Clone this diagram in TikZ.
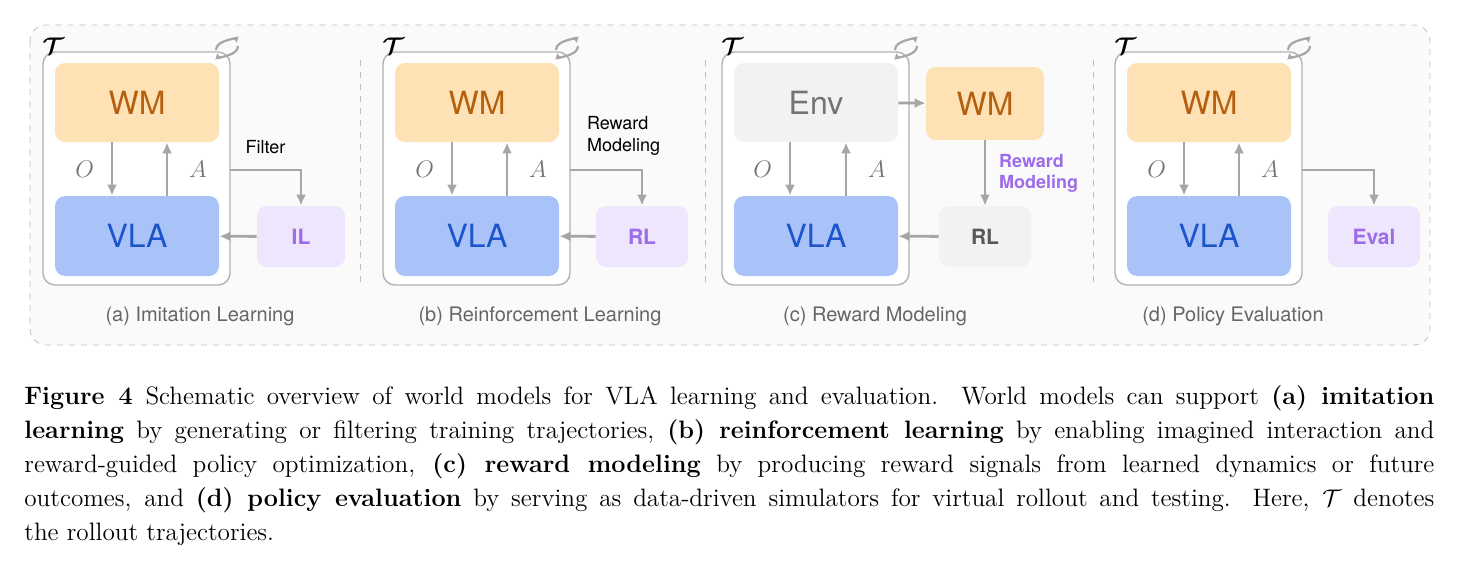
\documentclass[tikz,border=0pt]{standalone}
\usepackage{fontspec}
\setsansfont{TeX Gyre Heros}
\usepackage{amsmath,bm}
\usetikzlibrary{positioning,arrows.meta}
\definecolor{wmfill}{HTML}{FEE1B4}
\definecolor{wmtext}{HTML}{B5600F}
\definecolor{vlafill}{HTML}{A9C3F9}
\definecolor{vlatext}{HTML}{1B55C9}
\definecolor{ilfill}{HTML}{EDE6FD}
\definecolor{iltext}{HTML}{9C6CE9}
\definecolor{envfill}{HTML}{F2F2F2}
\definecolor{arr}{HTML}{A6A6A6}
\tikzset{
  box/.style={rounded corners=5pt, inner sep=0pt, font=\sffamily},
  frame/.style={draw=black!30, line width=0.7pt, rounded corners=6pt, fill=white},
  flow/.style={draw=arr, line width=1.4pt, -{Latex[length=5.5pt,width=5pt]}},
  sep/.style={draw=black!25, dashed, line width=0.5pt},
  sub/.style={font=\sffamily\fontsize{10}{12}\selectfont, text=black!60},
  act/.style={text=black!55, font=\fontsize{12}{14}\selectfont}
}
% repeated pieces of a panel
\newcommand{\trajframe}[1]{%
  \draw[frame] (#1+43,52) rectangle (#1+230,285);
  \node[anchor=west, inner sep=0pt] at (#1+42,46) {\large$\bm{\mathcal{T}}$};
  \draw[arr, line width=1.1pt, -{Latex[length=3pt,width=3.5pt]}] (#1+216,50) .. controls (#1+216,40) and (#1+236,39) .. (#1+237,43);
  \draw[arr, line width=1.1pt, -{Latex[length=3pt,width=3.5pt]}] (#1+238,46) .. controls (#1+238,56) and (#1+218,57) .. (#1+217,53);
}
\begin{document}
\begin{tikzpicture}[x=0.5pt, y=-0.5pt]
\useasboundingbox (0,0) rectangle (1460,570);
%cadre
\draw[draw=black!25, dashed, fill=black!2, rounded corners=8pt] (30,25) rectangle (1430,345);
\draw[sep] (360,60) -- (360,288);
\draw[sep] (705,60) -- (705,288);
\draw[sep] (1093,60) -- (1093,288);

%(a)
\trajframe{0}
\node[box, fill=wmfill, text=wmtext, minimum width=82pt, minimum height=39.5pt, font=\sffamily\fontsize{16}{18}\selectfont] (wma) at (137,102.5) {WM};
\node[box, fill=vlafill, text=vlatext, minimum width=82pt, minimum height=40pt, font=\sffamily\fontsize{16}{18}\selectfont] (vlaa) at (137,236) {VLA};
\node[box, fill=ilfill, text=iltext, minimum width=44pt, minimum height=30.5pt, font=\sffamily\bfseries\fontsize{10.5}{12}\selectfont] (il) at (301,236.5) {IL};
\draw[flow] (wma.south -| 112,0) -- (vlaa.north -| 112,0) node[midway, left=5pt, act] {$O$};
\draw[flow] (vlaa.north -| 167,0) -- (wma.south -| 167,0) node[midway, right=7pt, act] {$A$};
\coordinate (fa) at (230,170);
\draw[flow] (fa) -| (il.north) node[pos=0.25, above=4pt, font=\sffamily\small] {Filter};
\draw[flow] (il) -- (vlaa);
\node[sub] (capa) at (200,316) {(a) Imitation Learning};

%(b)
\trajframe{340}
\node[box, fill=wmfill, text=wmtext, minimum width=82pt, minimum height=39.5pt, font=\sffamily\fontsize{16}{18}\selectfont] (wmb) at (477,102.5) {WM};
\node[box, fill=vlafill, text=vlatext, minimum width=82pt, minimum height=40pt, font=\sffamily\fontsize{16}{18}\selectfont] (vlab) at (477,236) {VLA};
\node[box, fill=ilfill, text=iltext, minimum width=46pt, minimum height=30.5pt, font=\sffamily\bfseries\fontsize{10.5}{12}\selectfont] (rlb) at (642,236.5) {RL};
\draw[flow] (wmb.south -| 452,0) -- (vlab.north -| 452,0) node[midway, left=5pt, act] {$O$};
\draw[flow] (vlab.north -| 507,0) -- (wmb.south -| 507,0) node[midway, right=7pt, act] {$A$};
\coordinate (fb) at (570,170);
\draw[flow] (fb) -| (rlb.north);
\node[font=\sffamily\small, align=left, anchor=south west] (rmb) at (580,162) {Reward\\Modeling};
\draw[flow] (rlb) -- (vlab);
\node[sub] (capb) at (540,316) {(b) Reinforcement Learning};

%(c)
\trajframe{679}
\node[box, fill=envfill, text=black!55, minimum width=82pt, minimum height=39.5pt, font=\sffamily\fontsize{16}{18}\selectfont] (env) at (816,102.5) {Env};
\node[box, fill=vlafill, text=vlatext, minimum width=82pt, minimum height=40pt, font=\sffamily\fontsize{16}{18}\selectfont] (vlac) at (816,236) {VLA};
\node[box, fill=wmfill, text=wmtext, minimum width=59pt, minimum height=36.5pt, font=\sffamily\fontsize{16}{18}\selectfont] (wmc) at (985,103.5) {WM};
\node[box, fill=envfill, text=black!65, minimum width=46pt, minimum height=30.5pt, font=\sffamily\bfseries\fontsize{10.5}{12}\selectfont] (rlc) at (985,236.5) {RL};
\draw[flow] (env.south -| 790,0) -- (vlac.north -| 790,0) node[midway, left=5pt, act] {$O$};
\draw[flow] (vlac.north -| 846,0) -- (env.south -| 846,0) node[midway, right=7pt, act] {$A$};
\draw[flow] (env) -- (wmc);
\draw[flow] (wmc) -- (rlc) node[midway, right=3pt, align=left, text=iltext, font=\sffamily\bfseries\fontsize{9}{10.5}\selectfont] {Reward\\Modeling};
\draw[flow] (rlc) -- (vlac);
\node[sub] (capc) at (875,316) {(c) Reward Modeling};

%(d)
\trajframe{1072}
\node[box, fill=wmfill, text=wmtext, minimum width=82pt, minimum height=39.5pt, font=\sffamily\fontsize{16}{18}\selectfont] (wmd) at (1209,102.5) {WM};
\node[box, fill=vlafill, text=vlatext, minimum width=82pt, minimum height=40pt, font=\sffamily\fontsize{16}{18}\selectfont] (vlad) at (1209,236) {VLA};
\node[box, fill=ilfill, text=iltext, minimum width=46pt, minimum height=30.5pt, font=\sffamily\bfseries\fontsize{10.5}{12}\selectfont] (eval) at (1374,236.5) {Eval};
\draw[flow] (wmd.south -| 1184,0) -- (vlad.north -| 1184,0) node[midway, left=5pt, act] {$O$};
\draw[flow] (vlad.north -| 1239,0) -- (wmd.south -| 1239,0) node[midway, right=7pt, act] {$A$};
\coordinate (fd) at (1302,170);
\draw[flow] (fd) -| (eval.north);
\node[sub] (capd) at (1233,316) {(d) Policy Evaluation};

%legende
\node[anchor=north west, inner sep=0pt, text width=705pt, align=justify, font=\fontsize{12.6}{17}\selectfont] (caption) at (24,385)
{\textbf{Figure 4}\enspace Schematic overview of world models for VLA learning and evaluation. World models can support \textbf{(a) imitation}\linebreak \textbf{learning} by generating or filtering training trajectories, \textbf{(b) reinforcement learning} by enabling imagined interaction and\linebreak reward-guided policy optimization, \textbf{(c) reward modeling} by producing reward signals from learned dynamics or future\linebreak outcomes, and \textbf{(d) policy evaluation} by serving as data-driven simulators for virtual rollout and testing. Here, $\mathcal{T}$ denotes\linebreak the rollout trajectories.};
\end{tikzpicture}
\end{document}
